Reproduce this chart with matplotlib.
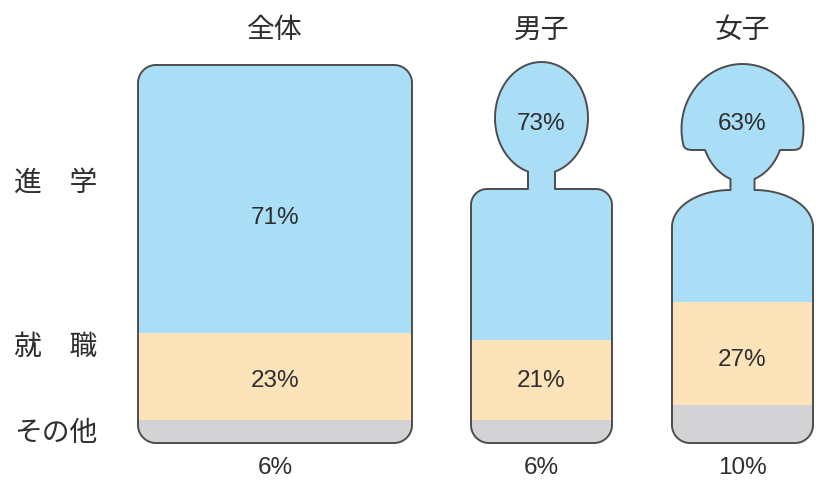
import numpy as np
import matplotlib
matplotlib.use('Agg')
import matplotlib.pyplot as plt
from matplotlib.path import Path
from matplotlib.patches import PathPatch

# ---- data ----
groups = ['全体', '男子', '女子']
categories = ['進学', '就職', 'その他']
shingaku = [71, 73, 63]   # 進学
shushoku = [23, 21, 27]   # 就職
sonota = [6, 6, 10]       # その他
row_labels = ['進\u3000学', '就\u3000職', 'その他']

plt.rcParams['font.family'] = ['Noto Sans CJK JP', 'DejaVu Sans']

BLUE = '#a9def6'
PEACH = '#fde3ba'
GREY = '#d3d3d5'
EDGE = '#4d4d4d'
TXT = '#2e2e2e'

fig = plt.figure(figsize=(8.3, 4.81), dpi=100)
ax = fig.add_axes([0, 0, 1, 1])
BASE, SCALE = 444.0, 3.81


def Y(p):
    return (BASE - p) / SCALE


ax.set_xlim(0, 830)
ax.set_ylim(Y(481), Y(0))
ax.axis('off')


def arc(cx, cp, rx, rp, t0, t1, n=40):
    t = np.linspace(t0, t1, n)
    return list(zip(cx + rx * np.cos(t), cp - rp * np.sin(t)))


def qb(P0, P1, P2, n=20):
    t = np.linspace(0, 1, n)[:, None]
    P0, P1, P2 = map(np.array, (P0, P1, P2))
    pts = (1 - t) ** 2 * P0 + 2 * (1 - t) * t * P1 + t ** 2 * P2
    return [tuple(p) for p in pts]


def mirror(left, cx):
    return left + [(2 * cx - x, p) for (x, p) in reversed(left)]


def rounded_rect(x0, x1, p0, p1, r):
    pts = []
    pts += arc(x0 + r, p1 - r, r, r, -np.pi / 2, -np.pi)
    pts += arc(x0 + r, p0 + r, r, r, np.pi, np.pi / 2)
    pts += arc(x1 - r, p0 + r, r, r, np.pi / 2, 0)
    pts += arc(x1 - r, p1 - r, r, r, 0, -np.pi / 2)
    return pts


def male(cx):
    a = np.arccos(13.5 / 46.5)
    left = []
    left += arc(cx, 119, 46.5, 56, np.pi / 2, np.pi + a)
    left += [(cx - 13.5, 190)]
    left += arc(cx - 54.5, 206, 16, 16, np.pi / 2, np.pi)
    left += arc(cx - 52.5, 426, 18, 18, np.pi, 1.5 * np.pi)
    left += [(cx, 444)]
    return mirror(left, cx)


def female(cx):
    phi = np.arcsin(16 / 65)
    left = []
    left += arc(cx, 130, 61, 65, np.pi / 2, np.pi + phi)
    x1 = cx - 61 * np.cos(phi)
    left += qb((x1, 146), (cx - 58, 151), (cx - 50, 151), 10)
    left += qb((cx - 37.5, 151), (cx - 29.5, 172), (cx - 12, 180))
    left += [(cx - 12, 191)]
    t = np.linspace(0, np.pi / 2, 30)
    left += list(zip(cx - 12 - 58.5 * np.sin(t), 228 - 37 * np.cos(t)))
    left += arc(cx - 52.5, 426, 18, 18, np.pi, 1.5 * np.pi)
    left += [(cx, 444)]
    return mirror(left, cx)


centers = [275, 541.5, 742.5]
widths = [274, 141, 141]
shapes = [rounded_rect(138, 412, 66, 444, 18), male(centers[1]), female(centers[2])]

for i, pts in enumerate(shapes):
    verts = [(x, Y(p)) for x, p in pts]
    verts.append(verts[0])
    codes = [Path.MOVETO] + [Path.LINETO] * (len(verts) - 2) + [Path.CLOSEPOLY]
    path = Path(verts, codes)
    outline = PathPatch(path, facecolor='none', edgecolor=EDGE, lw=1.4,
                        joinstyle='round', zorder=3)
    ax.add_patch(outline)
    bottom = 0
    for val, col in ((sonota[i], GREY), (shushoku[i], PEACH), (shingaku[i], BLUE)):
        bars = ax.bar(centers[i], val, bottom=bottom, width=widths[i] + 10,
                      color=col, linewidth=0, zorder=1)
        for b in bars:
            b.set_clip_path(outline)
        bottom += val

# titles
for g, cx in zip(groups, centers):
    ax.text(cx, Y(30), g, ha='center', va='center', fontsize=20, color=TXT)

# row labels
for lab, p in zip(row_labels, [183, 347, 433]):
    ax.text(14, Y(p), lab, ha='left', va='center', fontsize=20, color=TXT)

# percentage labels
fmt = lambda v: f'{v}%'
pf = dict(ha='center', va='center', fontsize=17.5, color=TXT,
          family=['Liberation Sans', 'DejaVu Sans'])
p_shin = [218, 124, 124]
p_shu = [381, 381, 360]
for i, cx in enumerate(centers):
    ax.text(cx, Y(p_shin[i]), fmt(shingaku[i]), **pf)
    ax.text(cx, Y(p_shu[i]), fmt(shushoku[i]), **pf)
    ax.text(cx, Y(468), fmt(sonota[i]), **pf)

fig.savefig('out.png', dpi=100, facecolor='white')
